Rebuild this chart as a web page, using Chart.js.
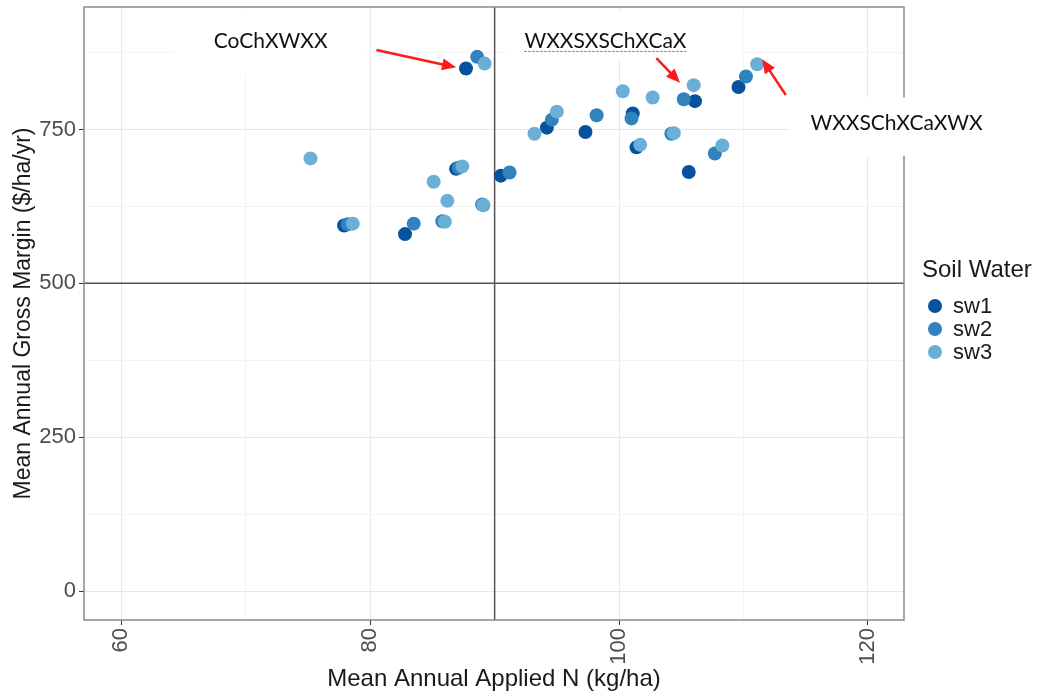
<!DOCTYPE html>
<html>
<head>
<meta charset="utf-8">
<script src="https://cdn.jsdelivr.net/npm/chart.js@4.4.1/dist/chart.umd.min.js"></script>
<style>
html, body { margin: 0; padding: 0; background: #fff; }
#wrap { width: 1040px; height: 694px; }
</style>
</head>
<body>
<div id="wrap"><canvas id="gmChart" width="1040" height="694"></canvas></div>
<script>
// mean annual applied N (kg/ha) and gross margin ($/ha/yr), one pair of arrays per soil water level
const sw1N  = [77.9, 82.8, 86.9, 87.7, 90.5, 94.2, 97.3, 101.1, 101.4, 105.6, 106.1, 109.6];
const sw1GM = [594, 580, 686, 849, 675, 753, 746, 776, 721, 681, 796, 819];

const sw2N  = [78.2, 83.5, 85.8, 87.1, 88.6, 89.0, 91.2, 94.6, 98.2, 101.0, 104.2, 105.2, 107.7, 110.2];
const sw2GM = [596, 597, 601, 688, 868, 628, 680, 766, 773, 768, 743, 799, 711, 836];

const sw3N  = [75.2, 78.6, 85.1, 86.0, 86.2, 87.4, 89.1, 89.2, 93.2, 95.0, 100.3, 101.7, 102.7, 104.4, 106.0, 108.3, 111.1];
const sw3GM = [703, 597, 665, 600, 634, 690, 627, 857, 743, 779, 812, 725, 802, 744, 822, 724, 856];

const seriesNames = ['sw1', 'sw2', 'sw3'];
const xGridTicks = [60, 70, 80, 90, 100, 110, 120];
const xMajorTicks = [60, 80, 100, 120];
const yGridTicks = [0, 125, 250, 375, 500, 625, 750, 875];
const yMajorTicks = [0, 250, 500, 750];
const refN = 90;     // vertical reference line
const refGM = 500;   // horizontal reference line
const noteLabels = ['CoChXWXX', 'WXXSXSChXCaX', 'WXXSChXCaXWX'];

const colors = ['#08519c', '#3182bd', '#6baed6'];
const tickGrey = '#4d4d4d';
const sansFont = '"Liberation Sans", Arial, sans-serif';

function toPoints(xs, ys) {
    return xs.map((x, i) => ({ x: x, y: ys[i] }));
}

// callouts, placed in data units so they follow the scales
const notes = [
    { text: noteLabels[0], box: [64.3, 79.6, 943, 838], at: [72.0, 893], arrow: [80.5, 879, 86.9, 851] },
    { text: noteLabels[1], box: [91.0, 110.0, 943, 864], at: [98.9, 893], arrow: [103.0, 866, 104.9, 826], underline: true },
    { text: noteLabels[2], box: [113.7, 131.0, 802, 707], at: [122.3, 760], arrow: [113.4, 806, 111.5, 864] }
];

const panelPlugin = {
    id: 'panelExtras',
    beforeDatasetsDraw(chart) {
        const { ctx, chartArea: a, scales: { x, y } } = chart;
        ctx.save();
        ctx.strokeStyle = '#555555';
        ctx.lineWidth = 1.5;
        const px = x.getPixelForValue(refN);
        const py = y.getPixelForValue(refGM);
        ctx.beginPath();
        ctx.moveTo(px, a.top); ctx.lineTo(px, a.bottom);
        ctx.moveTo(a.left, py); ctx.lineTo(a.right, py);
        ctx.stroke();
        ctx.restore();
    },
    afterDraw(chart) {
        const { ctx, chartArea: a, scales: { x, y } } = chart;
        ctx.save();
        // panel border
        ctx.strokeStyle = '#8a8a8a';
        ctx.lineWidth = 1.5;
        ctx.strokeRect(a.left, a.top, a.right - a.left, a.bottom - a.top);

        // legend
        ctx.fillStyle = '#1a1a1a';
        ctx.textBaseline = 'middle';
        ctx.textAlign = 'left';
        ctx.font = '24px ' + sansFont;
        ctx.fillText('Soil Water', a.right + 18, 270);
        ctx.font = '22px ' + sansFont;
        seriesNames.forEach((name, i) => {
            const cy = 306 + i * 23;
            ctx.fillStyle = colors[i];
            ctx.beginPath();
            ctx.arc(a.right + 31, cy, 7, 0, Math.PI * 2);
            ctx.fill();
            ctx.fillStyle = '#1a1a1a';
            ctx.fillText(name, a.right + 49, cy + 1);
        });

        // callouts
        notes.forEach(n => {
            const l = x.getPixelForValue(n.box[0]), r = x.getPixelForValue(n.box[1]);
            const t = y.getPixelForValue(n.box[2]), b = y.getPixelForValue(n.box[3]);
            ctx.fillStyle = '#ffffff';
            ctx.fillRect(l, t, r - l, b - t);

            ctx.fillStyle = '#111111';
            ctx.font = '21px Lato, "Open Sans", sans-serif';
            ctx.textAlign = 'center';
            ctx.textBaseline = 'middle';
            const tx = x.getPixelForValue(n.at[0]), ty = y.getPixelForValue(n.at[1]);
            ctx.fillText(n.text, tx, ty);
            if (n.underline) {
                const w = ctx.measureText(n.text).width;
                ctx.strokeStyle = '#e03030';
                ctx.lineWidth = 1;
                ctx.setLineDash([2, 2]);
                ctx.beginPath();
                ctx.moveTo(tx - w / 2, ty + 10);
                ctx.lineTo(tx + w / 2, ty + 10);
                ctx.stroke();
                ctx.setLineDash([]);
            }

            const x0 = x.getPixelForValue(n.arrow[0]), y0 = y.getPixelForValue(n.arrow[1]);
            const x1 = x.getPixelForValue(n.arrow[2]), y1 = y.getPixelForValue(n.arrow[3]);
            const ang = Math.atan2(y1 - y0, x1 - x0);
            const head = 14, half = 6;
            ctx.strokeStyle = '#ff1a1a';
            ctx.fillStyle = '#ff1a1a';
            ctx.lineWidth = 2.5;
            ctx.beginPath();
            ctx.moveTo(x0, y0);
            ctx.lineTo(x1 - Math.cos(ang) * head * 0.8, y1 - Math.sin(ang) * head * 0.8);
            ctx.stroke();
            ctx.beginPath();
            ctx.moveTo(x1, y1);
            ctx.lineTo(x1 - Math.cos(ang) * head - Math.sin(ang) * half, y1 - Math.sin(ang) * head + Math.cos(ang) * half);
            ctx.lineTo(x1 - Math.cos(ang) * head + Math.sin(ang) * half, y1 - Math.sin(ang) * head - Math.cos(ang) * half);
            ctx.closePath();
            ctx.fill();
        });
        ctx.restore();
    }
};

const ctx = document.getElementById('gmChart').getContext('2d');

const gmChart = new Chart(ctx, {
    type: 'scatter',
    data: {
        datasets: [
            { label: seriesNames[0], data: toPoints(sw1N, sw1GM), backgroundColor: colors[0], order: 2 },
            { label: seriesNames[1], data: toPoints(sw2N, sw2GM), backgroundColor: colors[1], order: 1 },
            { label: seriesNames[2], data: toPoints(sw3N, sw3GM), backgroundColor: colors[2], order: 0 }
        ]
    },
    options: {
        responsive: false,
        animation: false,
        layout: { padding: { top: -2, right: 136 } },
        elements: { point: { radius: 7, borderWidth: 0, hoverRadius: 7 } },
        plugins: {
            legend: { display: false },
            tooltip: { enabled: false }
        },
        scales: {
            x: {
                type: 'linear',
                min: 57.0,
                max: 122.9,
                afterBuildTicks: s => { s.ticks = xGridTicks.map(v => ({ value: v })); },
                afterFit: s => { s.height = 74; s.paddingLeft = 0; s.paddingRight = 0; },
                border: { display: false },
                grid: {
                    color: c => xMajorTicks.includes(c.tick.value) ? '#e8e8e8' : '#f3f3f3',
                    tickColor: c => xMajorTicks.includes(c.tick.value) ? '#333333' : 'rgba(0,0,0,0)',
                    tickLength: 5
                },
                ticks: {
                    maxRotation: 90,
                    minRotation: 90,
                    padding: 3,
                    color: tickGrey,
                    font: { family: sansFont, size: 22 },
                    callback: v => xMajorTicks.includes(v) ? String(v) : ''
                },
                title: {
                    display: true,
                    text: 'Mean Annual Applied N (kg/ha)',
                    color: '#1a1a1a',
                    font: { family: sansFont, size: 24 },
                    padding: { top: 0, bottom: 0 }
                }
            },
            y: {
                type: 'linear',
                min: -47,
                max: 949,
                afterBuildTicks: s => { s.ticks = yGridTicks.map(v => ({ value: v })); },
                afterFit: s => { s.width = 84; s.paddingTop = 0; s.paddingBottom = 0; },
                border: { display: false },
                grid: {
                    color: c => yMajorTicks.includes(c.tick.value) ? '#e8e8e8' : '#f3f3f3',
                    tickColor: c => yMajorTicks.includes(c.tick.value) ? '#333333' : 'rgba(0,0,0,0)',
                    tickLength: 5
                },
                ticks: {
                    padding: 3,
                    color: tickGrey,
                    font: { family: sansFont, size: 22 },
                    callback: v => yMajorTicks.includes(v) ? String(v) : ''
                },
                title: {
                    display: true,
                    text: 'Mean Annual Gross Margin ($/ha/yr)',
                    color: '#1a1a1a',
                    font: { family: sansFont, size: 23 },
                    padding: { top: 10, bottom: 0 }
                }
            }
        }
    },
    plugins: [panelPlugin]
});
</script>
</body>
</html>
